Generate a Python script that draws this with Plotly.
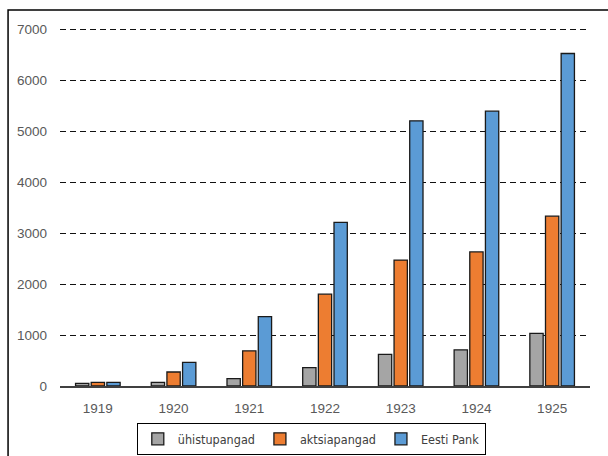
import plotly.graph_objects as go

years = ["1919", "1920", "1921", "1922", "1923", "1924", "1925"]
yhistupangad = [50, 70, 145, 360, 620, 710, 1030]
aktsiapangad = [70, 275, 690, 1800, 2470, 2630, 3330]
eesti_pank = [70, 465, 1360, 3210, 5200, 5390, 6520]
y_ticks = [0, 1000, 2000, 3000, 4000, 5000, 6000, 7000]

series = [
    ("ühistupangad", yhistupangad, "#A5A5A5"),
    ("aktsiapangad", aktsiapangad, "#ED7D31"),
    ("Eesti Pank", eesti_pank, "#5B9BD5"),
]

fig = go.Figure()
for name, vals, color in series:
    fig.add_trace(go.Bar(
        x=years, y=vals, name=name,
        marker=dict(color=color, line=dict(color="#1a1a1a", width=1.3)),
    ))

legend_family = "DejaVu Sans Condensed, Liberation Sans, Arial, sans-serif"
tick_family = "Liberation Sans, Arial, sans-serif"

fig.update_layout(
    width=608, height=456,
    margin=dict(l=60, r=18, t=28, b=70, autoexpand=False),
    paper_bgcolor="white", plot_bgcolor="white",
    barmode="group", bargap=0.38, bargroupgap=0.15,
    font=dict(family=tick_family, size=13, color="#595959"),
    showlegend=True,
    legend=dict(
        orientation="h", xref="container", x=0.512, xanchor="center",
        yref="container", y=0.072, yanchor="top",
        bordercolor="black", borderwidth=1, bgcolor="white",
        font=dict(family=legend_family, size=12.5, color="#404040"),
        itemwidth=30, traceorder="normal",
    ),
    xaxis=dict(
        type="category", showgrid=False, showline=True,
        linecolor="#404040", linewidth=1.5, ticks="",
        ticklabelstandoff=9, tickfont=dict(size=13.5, color="#595959"),
    ),
    yaxis=dict(
        range=[0, 7020], tickvals=y_ticks, showline=False, zeroline=False,
        showgrid=True, gridcolor="#111111", gridwidth=1.3, griddash="6px,4px",
        ticks="", ticklabelstandoff=12, tickfont=dict(size=13.5, color="#595959"),
    ),
    shapes=[dict(
        type="rect", xref="paper", yref="paper",
        x0=-0.098, x1=1.06, y0=-0.24, y1=1.05,
        line=dict(color="black", width=1.5), fillcolor="rgba(0,0,0,0)",
        layer="below",
    )],
)

fig.write_html("out.html")
